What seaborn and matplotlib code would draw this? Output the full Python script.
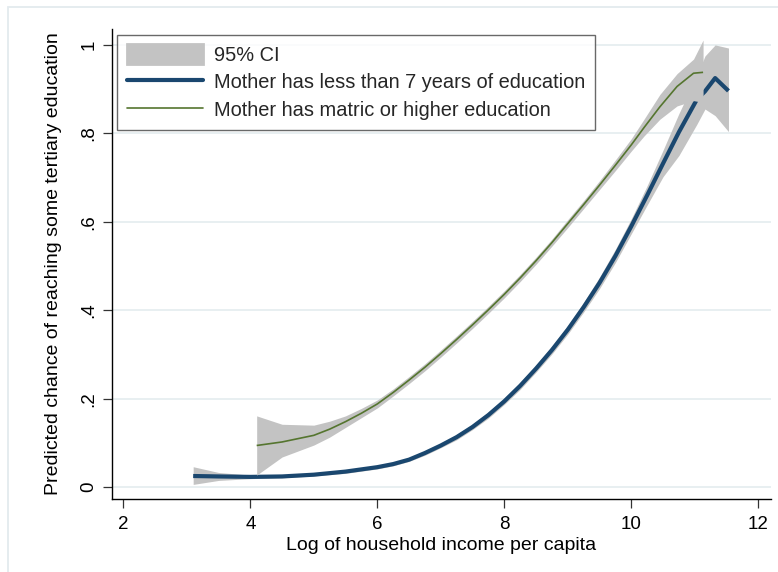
import numpy as np
import pandas as pd
import seaborn as sns
import matplotlib
matplotlib.use("Agg")
import matplotlib.pyplot as plt
from matplotlib.patches import Patch, Rectangle
from matplotlib.lines import Line2D

# Predicted probability of reaching tertiary education by log household income per capita
low_x = [3.1, 3.5, 4.0, 4.5, 5.0, 5.5, 5.75, 6.0, 6.25, 6.5, 6.75, 7.0, 7.25, 7.5,
         7.75, 8.0, 8.25, 8.5, 8.75, 9.0, 9.25, 9.5, 9.75, 10.0, 10.25, 10.5,
         10.75, 11.03, 11.16, 11.32, 11.53]
low_y = [0.025, 0.024, 0.023, 0.024, 0.028, 0.035, 0.040, 0.045, 0.052, 0.062,
         0.077, 0.094, 0.113, 0.136, 0.163, 0.194, 0.229, 0.268, 0.310, 0.356,
         0.407, 0.462, 0.523, 0.590, 0.660, 0.732, 0.803, 0.876, 0.895, 0.925, 0.896]
low_lo = [0.006, 0.015, 0.019, 0.021, 0.025, 0.031, 0.036, 0.041, 0.048, 0.058,
          0.072, 0.089, 0.107, 0.130, 0.156, 0.187, 0.221, 0.260, 0.301, 0.346,
          0.396, 0.449, 0.508, 0.573, 0.638, 0.702, 0.750, 0.820, 0.855, 0.840, 0.804]
low_hi = [0.046, 0.033, 0.027, 0.027, 0.031, 0.039, 0.044, 0.049, 0.056, 0.066,
          0.082, 0.099, 0.119, 0.142, 0.170, 0.201, 0.237, 0.276, 0.319, 0.366,
          0.418, 0.475, 0.538, 0.607, 0.682, 0.762, 0.845, 0.930, 0.975, 1.000, 0.993]

high_x = [4.1, 4.5, 5.0, 5.25, 5.5, 5.75, 6.0, 6.25, 6.5, 6.75, 7.0, 7.25, 7.5,
          7.75, 8.0, 8.25, 8.5, 8.75, 9.0, 9.25, 9.5, 9.75, 10.0, 10.2, 10.45,
          10.72, 10.98, 11.13]
high_y = [0.094, 0.102, 0.117, 0.131, 0.148, 0.167, 0.188, 0.214, 0.242, 0.271,
          0.302, 0.334, 0.367, 0.401, 0.436, 0.473, 0.512, 0.553, 0.596, 0.639,
          0.683, 0.728, 0.774, 0.813, 0.860, 0.906, 0.936, 0.938]
high_lo = [0.027, 0.068, 0.095, 0.113, 0.135, 0.157, 0.179, 0.206, 0.234, 0.263,
           0.294, 0.326, 0.359, 0.393, 0.428, 0.465, 0.504, 0.545, 0.587, 0.630,
           0.673, 0.716, 0.760, 0.794, 0.832, 0.862, 0.874, 0.870]
high_hi = [0.161, 0.142, 0.140, 0.149, 0.161, 0.178, 0.197, 0.222, 0.250, 0.279,
           0.310, 0.342, 0.375, 0.409, 0.444, 0.481, 0.520, 0.561, 0.605, 0.648,
           0.693, 0.740, 0.788, 0.832, 0.888, 0.935, 0.968, 1.011]

x_ticks = [2, 4, 6, 8, 10, 12]
y_ticks = [0, 0.2, 0.4, 0.6, 0.8, 1.0]
y_tick_labels = ["0", ".2", ".4", ".6", ".8", "1"]

label_ci = "95% CI"
label_low = "Mother has less than 7 years of education"
label_high = "Mother has matric or higher education"
x_title = "Log of household income per capita"
y_title = "Predicted chance of reaching some tertiary education"

NAVY = "#1a476f"
GREEN = "#55752f"
CI_GRAY = "#c3c3c3"
GRID = "#e6eef0"

sns.set_theme(style="white")
plt.rcParams["font.family"] = ["Liberation Sans", "DejaVu Sans"]

W, H = 778, 572
fig = plt.figure(figsize=(W / 100, H / 100), dpi=100)
left, right, top, bottom = 111.7, 770.7, 29, 499
ax = fig.add_axes([left / W, (H - bottom) / H, (right - left) / W, (bottom - top) / H])

df_low = pd.DataFrame({"x": low_x, "y": low_y, "lo": low_lo, "hi": low_hi})
df_high = pd.DataFrame({"x": high_x, "y": high_y, "lo": high_lo, "hi": high_hi})

# Low education group: band then line
ax.fill_between(df_low["x"], df_low["lo"], df_low["hi"], color=CI_GRAY, lw=0, zorder=2)
sns.lineplot(data=df_low, x="x", y="y", ax=ax, color=NAVY, lw=3.0,
             estimator=None, sort=False, zorder=3, legend=False)
# High education group drawn over it
ax.fill_between(df_high["x"], df_high["lo"], df_high["hi"], color=CI_GRAY, lw=0, zorder=4)
sns.lineplot(data=df_high, x="x", y="y", ax=ax, color=GREEN, lw=1.2,
             estimator=None, sort=False, zorder=5, legend=False)
for ln in ax.lines:
    ln.set_solid_capstyle("butt")
    ln.set_solid_joinstyle("round")

ax.set_xlim(1.817, 12.195)
ax.set_ylim(-0.027, 1.036)
ax.set_xticks(x_ticks)
ax.set_yticks(y_ticks)
ax.set_yticklabels(y_tick_labels, rotation=90, va="center", ha="right")
ax.tick_params(axis="both", direction="out", length=6.2, width=0.9, color="#333333",
               labelsize=13.5, labelcolor="black", bottom=True, left=True)
ax.tick_params(axis="x", pad=6)
ax.tick_params(axis="y", pad=4)
ax.yaxis.grid(True, color=GRID, lw=1.3, zorder=0)
ax.xaxis.grid(False)
ax.set_axisbelow(True)
for side in ("top", "right"):
    ax.spines[side].set_visible(False)
for side in ("left", "bottom"):
    ax.spines[side].set_color("black")
    ax.spines[side].set_linewidth(1.0)

ax.set_xlabel(x_title, fontsize=14, color="black", labelpad=3)
ax.set_ylabel(y_title, fontsize=14, color="black", labelpad=13)

handles = [
    Patch(facecolor=CI_GRAY, edgecolor=CI_GRAY, lw=2, joinstyle="round", label=label_ci),
    Line2D([0], [0], color=NAVY, lw=3.0, solid_capstyle="round", label=label_low),
    Line2D([0], [0], color=GREEN, lw=1.2, label=label_high),
]
leg = ax.legend(handles=handles, loc="upper left",
                bbox_to_anchor=(117.3 / W, 1 - 34.7 / H), bbox_transform=fig.transFigure,
                borderaxespad=0, fontsize=14.4, frameon=True, fancybox=False,
                handlelength=3.8, handleheight=1.1, handletextpad=0.55,
                labelspacing=0.36, borderpad=0.48)
leg.get_frame().set_edgecolor("#444444")
leg.get_frame().set_linewidth(1.0)
leg.set_zorder(6)

# Light outer frame of the graph region
fig.patches.append(Rectangle((8 / W, -0.1), 1.2, 1.1 - 7 / H, transform=fig.transFigure,
                             fill=False, edgecolor="#e3eaee", lw=1.3))

fig.savefig("out.png", dpi=100)
